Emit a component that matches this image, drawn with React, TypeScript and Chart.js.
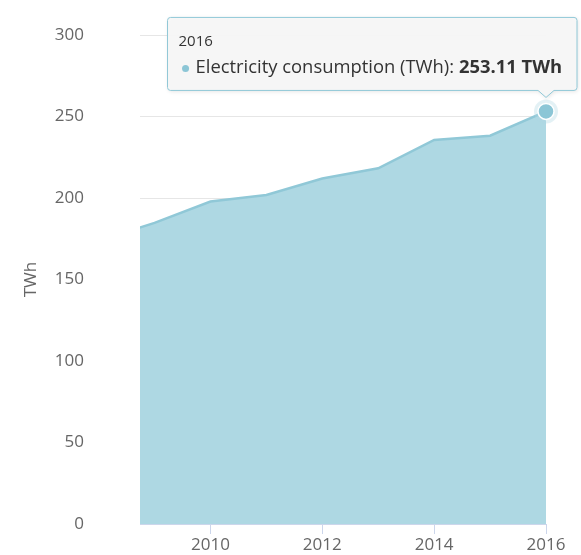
import { useEffect, useRef } from 'react';
import { Chart, registerables } from 'chart.js';

Chart.register(...registerables);

const years = [2008, 2009, 2010, 2011, 2012, 2013, 2014, 2015, 2016];
const consumption = [174, 184.7, 197.8, 201.8, 212, 218.2, 235.6, 238.2, 253.11];
const xTickValues = [2010, 2012, 2014, 2016];
const yTickStep = 50;
const seriesName = 'Electricity consumption (TWh)';
const unit = 'TWh';
const highlightIndex = 8;

const FILL = '#aed8e3';
const LINE = '#90c8d7';
const MARKER = '#8cc6d6';
const FONT = '"Open Sans", "DejaVu Sans", sans-serif';

const tooltipPlugin = {
  id: 'fixedTooltip',
  afterDraw(chart: any) {
    const ctx = chart.ctx as CanvasRenderingContext2D;
    const xs = chart.scales.x;
    const ys = chart.scales.y;
    const px = xs.getPixelForValue(years[highlightIndex]);
    const py = ys.getPixelForValue(consumption[highlightIndex]);
    ctx.save();
    // halo + marker
    ctx.beginPath();
    ctx.arc(px, py, 12, 0, Math.PI * 2);
    ctx.fillStyle = 'rgba(174,216,227,0.35)';
    ctx.fill();
    ctx.beginPath();
    ctx.arc(px, py, 8, 0, Math.PI * 2);
    ctx.fillStyle = MARKER;
    ctx.fill();
    ctx.lineWidth = 1.5;
    ctx.strokeStyle = '#ffffff';
    ctx.stroke();

    const head = String(years[highlightIndex]);
    const label = seriesName + ': ';
    const val = consumption[highlightIndex].toFixed(2) + ' ' + unit;
    ctx.font = `18.4px ${FONT}`;
    const w1 = ctx.measureText(label).width;
    ctx.font = `bold 18.4px ${FONT}`;
    const w2 = ctx.measureText(val).width;
    const boxW = 28 + w1 + w2 + 15;
    const tipX = px;
    const tipY = py - 14;
    const bottom = tipY - 7;
    const top = bottom - 73;
    const right = px + 31;
    const left = right - boxW;
    const r = 3;

    ctx.beginPath();
    ctx.moveTo(left + r, top);
    ctx.lineTo(right - r, top);
    ctx.arcTo(right, top, right, top + r, r);
    ctx.lineTo(right, bottom - r);
    ctx.arcTo(right, bottom, right - r, bottom, r);
    ctx.lineTo(tipX + 8, bottom);
    ctx.lineTo(tipX, tipY);
    ctx.lineTo(tipX - 8, bottom);
    ctx.lineTo(left + r, bottom);
    ctx.arcTo(left, bottom, left, bottom - r, r);
    ctx.lineTo(left, top + r);
    ctx.arcTo(left, top, left + r, top, r);
    ctx.closePath();
    ctx.shadowColor = 'rgba(0,0,0,0.12)';
    ctx.shadowBlur = 4;
    ctx.shadowOffsetX = 1;
    ctx.shadowOffsetY = 1;
    ctx.fillStyle = 'rgba(247,247,247,0.95)';
    ctx.fill();
    ctx.shadowColor = 'transparent';
    ctx.lineWidth = 1;
    ctx.strokeStyle = LINE;
    ctx.stroke();

    ctx.textBaseline = 'middle';
    ctx.textAlign = 'left';
    ctx.fillStyle = '#333333';
    ctx.font = `15px ${FONT}`;
    ctx.fillText(head, left + 11, top + 24);

    ctx.beginPath();
    ctx.arc(left + 18, top + 51, 3.5, 0, Math.PI * 2);
    ctx.fillStyle = MARKER;
    ctx.fill();

    ctx.fillStyle = '#333333';
    ctx.font = `18.4px ${FONT}`;
    ctx.fillText(label, left + 28, top + 50);
    ctx.font = `bold 18.4px ${FONT}`;
    ctx.fillText(val, left + 28 + w1, top + 50);
    ctx.restore();
  },
};

export default function App() {
  const ref = useRef<HTMLCanvasElement | null>(null);
  useEffect(() => {
    document.body.style.margin = '0';
    const canvas = ref.current;
    if (!canvas) return;
    const chart = new Chart(canvas, {
      type: 'line',
      data: {
        datasets: [
          {
            label: seriesName,
            data: years.map((y, i) => ({ x: y, y: consumption[i] })),
            borderColor: LINE,
            backgroundColor: FILL,
            borderWidth: 2.5,
            fill: 'origin',
            pointRadius: 0,
            pointHoverRadius: 0,
            tension: 0,
            clip: { left: 0, top: false, right: false, bottom: 0 } as any,
          },
        ],
      },
      options: {
        responsive: false,
        animation: false,
        devicePixelRatio: 1,
        events: [],
        layout: { padding: { left: 0, right: 35, top: 35, bottom: 0 } },
        plugins: {
          legend: { display: false },
          tooltip: { enabled: false },
          title: { display: false },
        },
        scales: {
          x: {
            type: 'linear',
            min: 2008.74,
            max: 2016,
            afterBuildTicks: (scale: any) => {
              scale.ticks = xTickValues.map((v) => ({ value: v }));
            },
            afterFit: (scale: any) => {
              scale.height = 31;
            },
            grid: {
              display: true,
              drawOnChartArea: false,
              drawTicks: true,
              tickLength: 10,
              color: '#ccd6eb',
            },
            border: { display: true, color: '#ccd6eb', width: 1 },
            ticks: {
              autoSkip: false,
              maxRotation: 0,
              padding: 1,
              color: '#666666',
              font: { family: FONT, size: 17 },
              callback: (v: any) => String(v),
            },
          },
          y: {
            type: 'linear',
            min: 0,
            max: 300,
            afterFit: (scale: any) => {
              scale.width = 140;
              scale.paddingTop = 0;
              scale.paddingBottom = 0;
            },
            grid: { color: '#e6e6e6', drawTicks: false, lineWidth: 1 },
            border: { display: false },
            ticks: {
              stepSize: yTickStep,
              padding: 56,
              color: '#666666',
              font: { family: FONT, size: 17 },
            },
            title: {
              display: true,
              text: unit,
              color: '#666666',
              font: { family: FONT, size: 17 },
              padding: { top: 21, bottom: 0 },
            },
          },
        },
      },
      plugins: [tooltipPlugin],
    });
    return () => chart.destroy();
  }, []);
  return (
    <div style={{ width: 581, height: 555, position: 'relative' }}>
      <canvas ref={ref} width={581} height={555} style={{ display: 'block' }} />
    </div>
  );
}
